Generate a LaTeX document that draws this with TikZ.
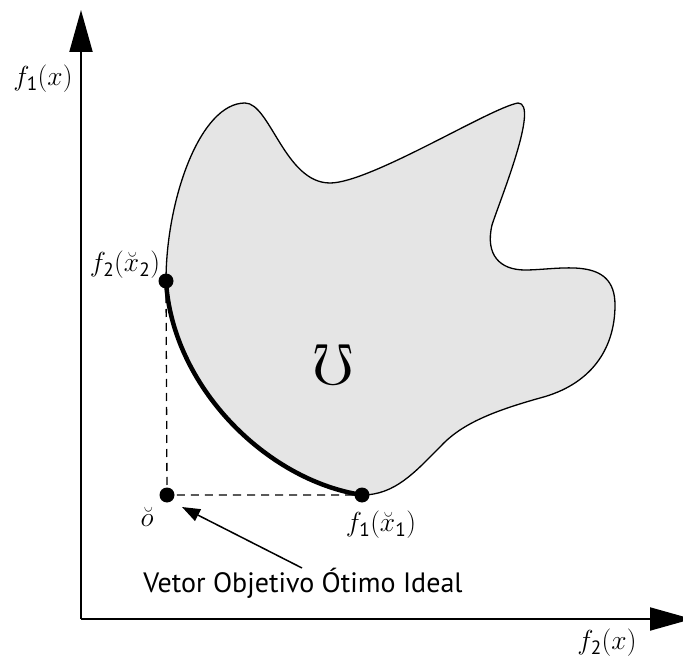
\RequirePackage{fix-cm}
\documentclass[tikz,border=0pt]{standalone}
\usepackage{amsmath,amssymb}
\usepackage{fontspec}
\newfontfamily\lab{PT Sans}
\usetikzlibrary{arrows.meta}
\tikzset{
  axis/.style={line width=2pt,-{Triangle[length=42pt,width=23pt]}},
  dotnode/.style={circle,fill=black,inner sep=0pt,minimum size=15pt},
  lbl/.style={font=\fontsize{27.5}{32}\selectfont,inner sep=0pt},
  guide/.style={dashed,line width=1.3pt,dash pattern=on 8pt off 6pt},
  pointer/.style={line width=1.5pt,-{Triangle[length=18pt,width=13pt]}}
}
\newcommand{\sub}[1]{\text{\lab #1}}
\begin{document}
\begin{tikzpicture}[x=1pt,y=-1pt]
\useasboundingbox (0,0) rectangle (683,660);
% region
\def\outline{(166,281) .. controls (166,200) and (200,103) .. (245,103)
  .. controls (270,103) and (285,183) .. (330,183)
  .. controls (370,183) and (490,108) .. (518,103)
  .. controls (540,103) and (500,200) .. (492,225)
  .. controls (485,255) and (500,270) .. (525,270)
  .. controls (560,270) and (615,255) .. (615,305)
  .. controls (615,350) and (590,385) .. (540,398)
  .. controls (490,412) and (460,425) .. (440,447)
  .. controls (415,472) and (395,495) .. (362,495)}
\fill[gray!20] \outline .. controls (265,480) and (172,385) .. (166,281) -- cycle;
\draw[line width=1.3pt] \outline;
% axes
\coordinate (O) at (81,619);
\coordinate (ytop) at (81,10);
\coordinate (xend) at (692,619);
\draw[axis] (O) -- (ytop);
\draw[axis] (O) -- (xend);
% points
\node[dotnode] (p2) at (166,281) {};
\node[dotnode] (p1) at (362,495) {};
\node[dotnode] (id) at (167,495) {};
\draw[guide] (p2.center) -- (id.center) -- (p1.center);
\draw[line width=4.5pt] (p1.center) .. controls (265,480) and (172,385) .. (p2.center);
% labels
\node[lbl] (ly) at (43,79) {$f_{\sub{1}}(x)$};
\node[lbl] (lx) at (607,643) {$f_{\sub{2}}(x)$};
\node[lbl] (l2) at (125,265) {$f_{\sub{2}}(\breve{x}_{\sub{2}})$};
\node[lbl] (l1) at (381,525) {$f_{\sub{1}}(\breve{x}_{\sub{1}})$};
\node[lbl] (lo) at (147,517) {$\breve{o}$};
\node[inner sep=0pt,font=\fontsize{58}{60}\selectfont] (mho) at (333,365) {$\mho$};
\node[inner sep=0pt,font=\lab\fontsize{28}{32}\selectfont] (txt) at (303,583) {Vetor Objetivo Ótimo Ideal};
\coordinate (tail) at (302,568);
\coordinate (tip) at (182,507);
\draw[pointer] (tail) -- (tip);
\end{tikzpicture}
\end{document}
